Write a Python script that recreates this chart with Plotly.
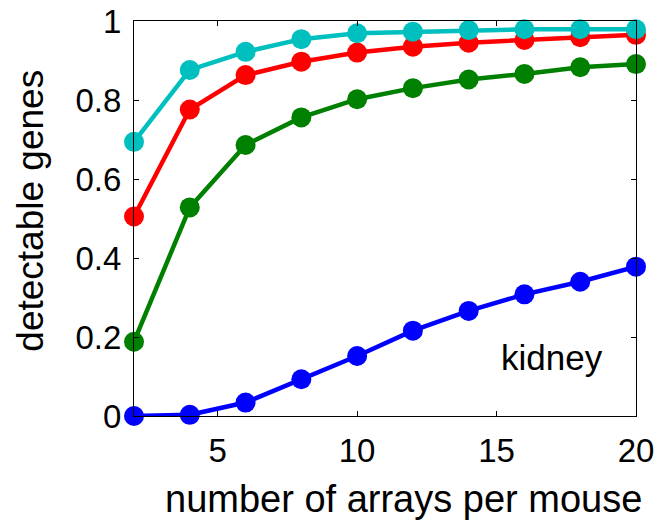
import plotly.graph_objects as go

# arrays per mouse
n_arrays = [2, 4, 6, 8, 10, 12, 14, 16, 18, 20]

# fraction of detectable genes for each series
blue_vals = [0.000, 0.003, 0.034, 0.093, 0.152, 0.216, 0.266, 0.308, 0.340, 0.378]
green_vals = [0.188, 0.528, 0.686, 0.756, 0.802, 0.830, 0.852, 0.866, 0.883, 0.891]
red_vals = [0.505, 0.776, 0.863, 0.897, 0.920, 0.935, 0.945, 0.952, 0.959, 0.965]
cyan_vals = [0.694, 0.876, 0.922, 0.954, 0.969, 0.973, 0.977, 0.979, 0.979, 0.979]

x_ticks = [5, 10, 15, 20]
y_ticks = [0, 0.2, 0.4, 0.6, 0.8, 1]
y_tick_labels = ["0", "0.2", "0.4", "0.6", "0.8", "1"]

series = [
    (blue_vals, "#0000FF"),
    (green_vals, "#008000"),
    (red_vals, "#FF0000"),
    (cyan_vals, "#00BFBF"),
]

FONT = "Arial, Liberation Sans, sans-serif"

fig = go.Figure()
for vals, color in series:
    fig.add_trace(go.Scatter(
        x=n_arrays, y=vals, mode="lines+markers",
        line=dict(color=color, width=4.5),
        marker=dict(color=color, size=20),
        cliponaxis=False, showlegend=False,
    ))

axis_common = dict(
    showline=True, linecolor="black", linewidth=1, mirror="ticks",
    ticks="inside", ticklen=5, tickwidth=1, tickcolor="black",
    showgrid=False, zeroline=False, automargin=False,
    tickfont=dict(family=FONT, size=33, color="black"),
)

fig.update_xaxes(range=[2, 20], tickvals=x_ticks, ticklabelstandoff=5, **axis_common)
fig.update_yaxes(range=[0, 1], tickvals=y_ticks, ticktext=y_tick_labels,
                 ticklabelstandoff=5, **axis_common)

# axis titles
fig.add_annotation(
    x=0.536, y=-0.21, xref="paper", yref="paper", text="number of arrays per mouse",
    showarrow=False, font=dict(family=FONT, size=38, color="black"),
    xanchor="center", yanchor="middle",
)
fig.add_annotation(
    x=-0.205, y=0.52, xref="paper", yref="paper", text="detectable genes",
    showarrow=False, textangle=-90, font=dict(family=FONT, size=37, color="black"),
    xanchor="center", yanchor="middle",
)

fig.add_annotation(
    x=17, y=0.148, xref="x", yref="y", text="kidney", showarrow=False,
    font=dict(family=FONT, size=35, color="black"),
    xanchor="center", yanchor="middle",
)

fig.update_layout(
    width=658, height=522,
    margin=dict(l=134, r=22, t=21, b=106, autoexpand=False),
    plot_bgcolor="white", paper_bgcolor="white",
)

fig.write_html("out.html")
